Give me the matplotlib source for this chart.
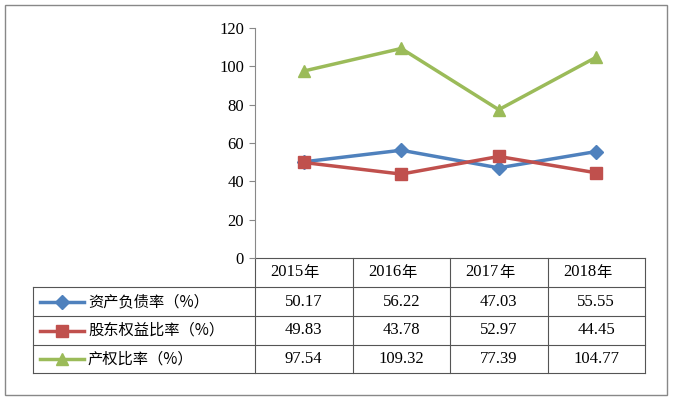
import matplotlib
matplotlib.use("Agg")
import matplotlib.pyplot as plt

years = ["2015年", "2016年", "2017年", "2018年"]
series_names = ["资产负债率（%）", "股东权益比率（%）", "产权比率（%）"]
debt_ratio = [50.17, 56.22, 47.03, 55.55]
equity_ratio = [49.83, 43.78, 52.97, 44.45]
property_ratio = [97.54, 109.32, 77.39, 104.77]
y_ticks = [0, 20, 40, 60, 80, 100, 120]

series = [debt_ratio, equity_ratio, property_ratio]
colors = ["#4F81BD", "#C0504D", "#9BBB59"]
markers = ["D", "s", "^"]
msizes = [7, 9, 9]

W, H = 673, 400
fig = plt.figure(figsize=(W / 100, H / 100), dpi=100)
serif = "Liberation Serif"
cjk = "Noto Sans CJK SC"

# full-figure overlay for border and table
ov = fig.add_axes([0, 0, 1, 1])
ov.set_xlim(0, W)
ov.set_ylim(H, 0)
ov.axis("off")
ov.add_patch(plt.Rectangle((5, 5), 662, 390, fill=False, ec="#888888", lw=1))

left, right, top, bottom = 255, 645, 28, 258
ax = fig.add_axes([left / W, 1 - bottom / H, (right - left) / W, (bottom - top) / H])
ax.set_xlim(0, 4)
ax.set_ylim(0, 120)
ax.set_yticks(y_ticks)
ax.set_yticklabels([str(t) for t in y_ticks], fontfamily=serif, fontsize=12)
ax.set_xticks([])
for s in ["top", "right", "bottom"]:
    ax.spines[s].set_visible(False)
ax.spines["left"].set_color("#888888")
ax.tick_params(axis="y", length=4, color="#888888", pad=4)
ax.patch.set_alpha(0)

xs = [0.5, 1.5, 2.5, 3.5]
for vals, c, m, ms in zip(series, colors, markers, msizes):
    ax.plot(xs, vals, color=c, lw=2.5, marker=m, markersize=ms, zorder=3)

# table
col_w = (right - left) / 4
row_tops = [258, 287, 316, 345, 373]
tab_left = 33
lc = "#555555"
# horizontal lines
ov.plot([left, right], [row_tops[0]] * 2, color=lc, lw=0.8)
for y in row_tops[1:]:
    ov.plot([tab_left, right], [y, y], color=lc, lw=0.8)
# vertical lines
ov.plot([tab_left, tab_left], [row_tops[1], row_tops[-1]], color=lc, lw=0.8)
for i in range(5):
    x = left + i * col_w
    ov.plot([x, x], [row_tops[0], row_tops[-1]], color=lc, lw=0.8)

for i, yr in enumerate(years):
    cx = left + (i + 0.5) * col_w
    ov.text(cx, (row_tops[0] + row_tops[1]) / 2, yr[:-1], fontfamily=serif, fontsize=12,
            ha="right", va="center")
    ov.text(cx, (row_tops[0] + row_tops[1]) / 2, yr[-1], fontfamily=cjk, fontsize=11,
            ha="left", va="center")

for r, (name, vals, c, m, ms) in enumerate(zip(series_names, series, colors, markers, msizes)):
    cy = (row_tops[r + 1] + row_tops[r + 2]) / 2
    ov.plot([40, 84], [cy, cy], color=c, lw=2.5)
    ov.plot([62], [cy], color=c, marker=m, markersize=ms)
    ov.text(88, cy, name, fontfamily=cjk, fontsize=11, ha="left", va="center")
    for i, v in enumerate(vals):
        cx = left + (i + 0.5) * col_w
        ov.text(cx, cy, f"{v:.2f}", fontfamily=serif, fontsize=12, ha="center", va="center")

fig.savefig("out.png", dpi=100)
